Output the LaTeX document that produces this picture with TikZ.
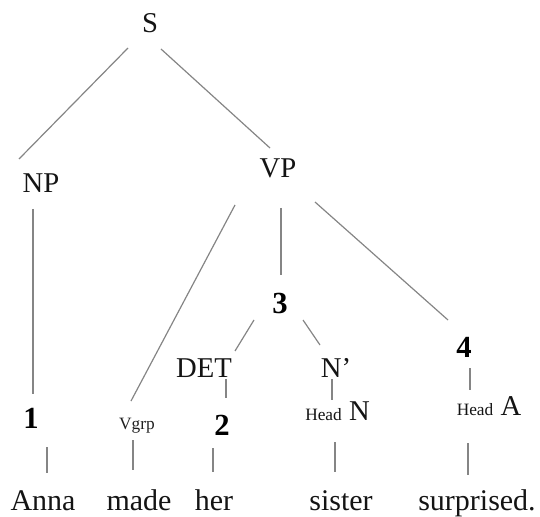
\documentclass[tikz,border=0pt]{standalone}
\usepackage{fontspec}
\setmainfont{Liberation Serif}
\begin{document}
\begin{tikzpicture}[x=0.75pt,y=0.75pt,yscale=-1,xscale=1,
    lab/.style={anchor=base,inner sep=0pt,text=black!92,font=\fontsize{21.5}{24}\selectfont},
    num/.style={anchor=base,inner sep=0pt,text=black,font=\fontsize{23}{26}\selectfont\bfseries},
    word/.style={anchor=base,inner sep=0pt,text=black!92,font=\fontsize{22.5}{26}\selectfont},
    small/.style={anchor=base,inner sep=0pt,text=black!88,font=\fontsize{13}{15}\selectfont},
    branch/.style={draw=black!48,line width=0.9pt}]
\useasboundingbox (0,0) rectangle (540,517);

% Text Node
\node [lab] (S) at (150,33) {S};
\node [lab] (NP) at (41,193) {NP};
\node [lab] (VP) at (278,178) {VP};
\node [num] (n1) at (31,428) {1};
\node [num] (n3) at (280,313) {3};
\node [lab] (DET) at (204,377) {DET};
\node [lab] (Nbar) at (336,377) {N’};
\node [num] (n2) at (222,435) {2};
\node [num] (n4) at (464,357) {4};
\node [small] (Vgrp) at (137,429) {Vgrp};
\node [lab] (HeadN) at (337.5,420) {{\fontsize{13}{15}\selectfont Head} N};
\node [lab] (HeadA) at (489,415) {{\fontsize{13}{15}\selectfont Head} A};
% Words
\node [word] (Anna) at (43,510) {Anna};
\node [word] (made) at (139,510) {made};
\node [word] (her) at (214,510) {her};
\node [word] (sister) at (341,510) {sister};
\node [word] (surprised) at (477,510) {surprised.};

%Straight Lines
\draw [branch] ([shift={(-22,15)}]S.base) -- ([shift={(-22,-34)}]NP.base);
\draw [branch] ([shift={(11,16)}]S.base) -- ([shift={(-8,-30)}]VP.base);
\draw [branch] ([shift={(-8,16)}]NP.base) -- ([shift={(2,-34)}]n1.base);
\draw [branch] ([shift={(-43,27)}]VP.base) -- ([shift={(-6,-28)}]Vgrp.base);
\draw [branch] ([shift={(3,30)}]VP.base) -- ([shift={(1,-38)}]n3.base);
\draw [branch] ([shift={(37,24)}]VP.base) -- ([shift={(-16,-37)}]n4.base);
\draw [branch] ([shift={(-26,7)}]n3.base) -- ([shift={(31,-26)}]DET.base);
\draw [branch] ([shift={(23,7)}]n3.base) -- ([shift={(-16,-32)}]Nbar.base);
\draw [branch] ([shift={(22,2)}]DET.base) -- ([shift={(4,-37)}]n2.base);
\draw [branch] ([shift={(-4,2)}]Nbar.base) -- ([shift={(-5.5,-20)}]HeadN.base);
\draw [branch] ([shift={(6,11)}]n4.base) -- ([shift={(-19,-25)}]HeadA.base);
%Straight Lines to the words
\draw [branch] ([shift={(16,19)}]n1.base) -- ([shift={(4,-37)}]Anna.base);
\draw [branch] ([shift={(-4,11)}]Vgrp.base) -- ([shift={(-6,-40)}]made.base);
\draw [branch] ([shift={(-9,13)}]n2.base) -- ([shift={(-1,-38)}]her.base);
\draw [branch] ([shift={(-2.5,22)}]HeadN.base) -- ([shift={(-6,-38)}]sister.base);
\draw [branch] ([shift={(-21,28)}]HeadA.base) -- ([shift={(-9,-35)}]surprised.base);
\end{tikzpicture}
\end{document}
